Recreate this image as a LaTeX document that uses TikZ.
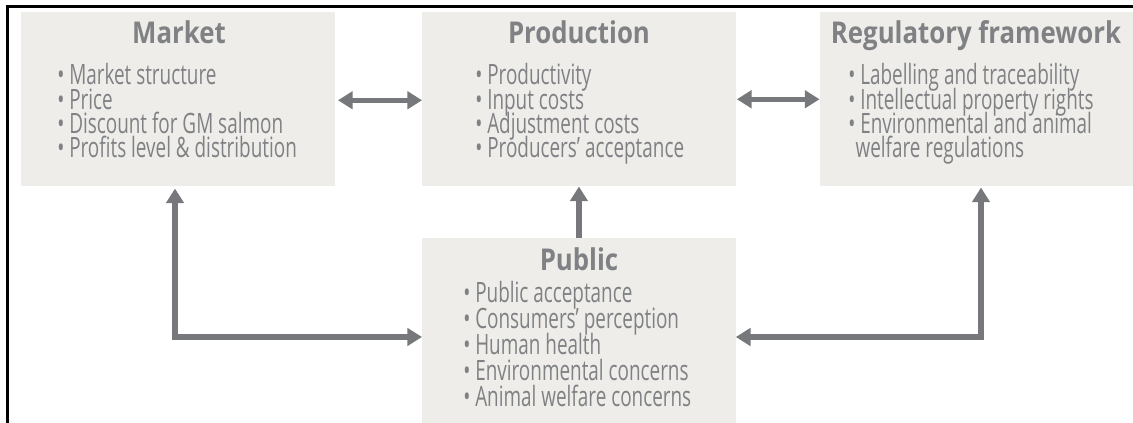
\documentclass[tikz,border=0pt]{standalone}
\usepackage{fontspec}
\setmainfont{Open Sans}
\newfontfamily\listfont[FakeStretch=0.675]{Open Sans}
\newfontfamily\titlefont[FakeStretch=0.86]{Open Sans}[BoldFont={Open Sans Bold}]
\usetikzlibrary{arrows.meta}
\definecolor{boxfill}{HTML}{EEEDE9}
\definecolor{inkgrey}{HTML}{808184}
\definecolor{arrowgrey}{HTML}{77787B}
\tikzset{
  panel/.style={fill=boxfill,draw=none,inner sep=0pt,minimum width=#1},
  paneltitle/.style={inkgrey,inner sep=0pt,anchor=base,font=\titlefont\bfseries\fontsize{22.5}{24}\selectfont},
  panellist/.style={inkgrey,inner sep=0pt,anchor=base west,align=left,font=\listfont\fontsize{21}{18.3}\selectfont,
    execute at begin node={\lineskiplimit=-20pt\relax}},
  link/.style={arrowgrey,line width=4pt,{Triangle[length=11pt,width=13pt]}-{Triangle[length=11pt,width=13pt]}},
  oneway/.style={arrowgrey,line width=4pt,-{Triangle[length=11pt,width=13pt]}},
  frameline/.style={black,line width=1.7pt}
}
\begin{document}
\begin{tikzpicture}[x=0.75pt,y=-0.75pt]
\useasboundingbox (0,0) rectangle (1133,423);
\coordinate (fa) at (7.5,423);
\coordinate (fb) at (7.5,6.5);
\coordinate (fc) at (1133,6.5);
\draw[frameline] (fa) -- (fb) -- (fc);
\node[panel=235.5pt,minimum height=130.5pt,anchor=north west] (market) at (20.5,12) {};
\node[panel=235pt,minimum height=130.5pt,anchor=north west] (production) at (422,12) {};
\node[panel=235pt,minimum height=130.5pt,anchor=north west] (regulatory) at (819.5,12) {};
\node[panel=235pt,minimum height=139pt,anchor=north west] (public) at (422,238) {};
\node[paneltitle] (t1) at (179,44) {Market};
\node[paneltitle] (t2) at (579,44) {Production};
\node[paneltitle] (t3) at (976,44) {Regulatory framework};
\node[paneltitle] (t4) at (579,271) {Public};
\node[panellist] (l1) at (57,158) {• Market structure\\• Price\\• Discount for GM salmon\\• Profits level \& distribution};
\node[panellist] (l2) at (475,158) {• Productivity\\• Input costs\\• Adjustment costs\\• Producers’ acceptance};
\node[panellist] (l3) at (848,158) {• Labelling and traceability\\• Intellectual property rights\\• Environmental and animal\\\hspace*{5.5pt}welfare regulations};
\node[panellist,font=\listfont\fontsize{21}{19.5}\selectfont] (l4) at (463,407) {• Public acceptance\\• Consumers’ perception\\• Human health\\• Environmental concerns\\• Animal welfare concerns};
\coordinate (a) at (175,337);
\coordinate (b) at (981,337);
\draw[link] (market.east) ++(3,1) -- ++(84,0) coordinate (m1);
\draw[link] (production.east) ++(1,0) -- (regulatory.west);
\draw[oneway] (public.north -| production.south) -- (production.south);
\draw[link] (market.south -| a) ++(0,2) -- (a) -- (public.west |- a);
\draw[link] (regulatory.south -| b) ++(0,1) -- (b) -- (public.east |- b);
\end{tikzpicture}
\end{document}
